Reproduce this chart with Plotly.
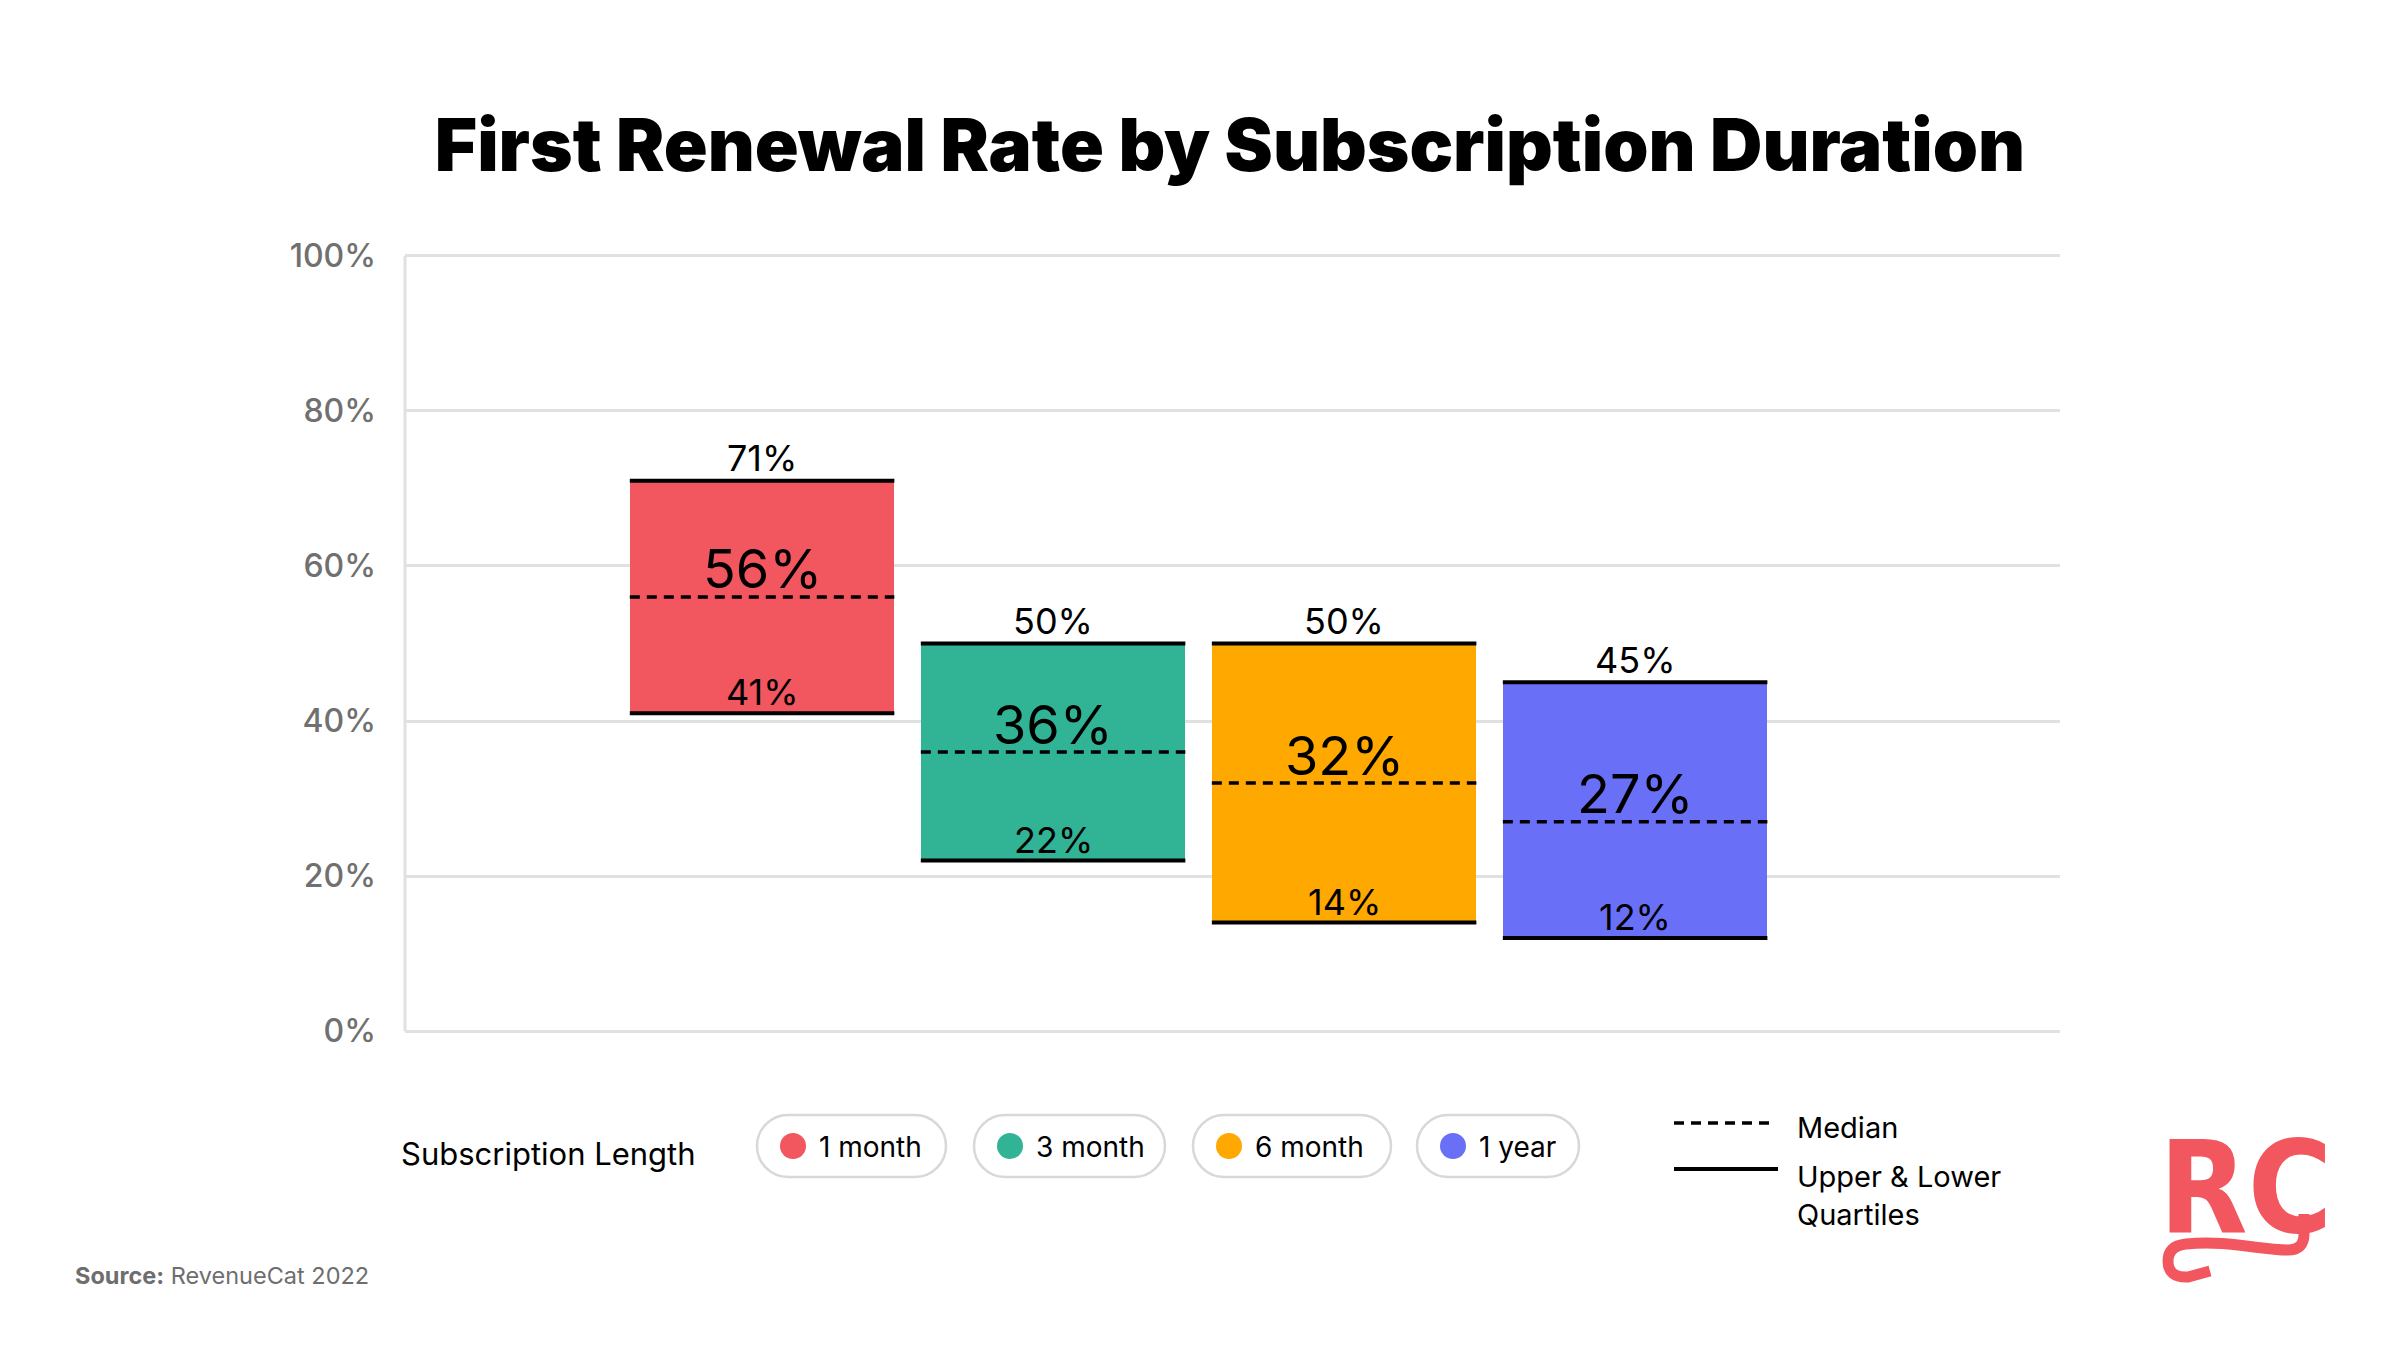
import plotly.graph_objects as go

# ---------------- data ----------------
categories = ["1 month", "3 month", "6 month", "1 year"]
upper_quartile = [71, 50, 50, 45]
median = [56, 36, 32, 27]
lower_quartile = [41, 22, 14, 12]
colors = ["#F2565F", "#31B396", "#FFA800", "#6A6FF7"]
y_tick_values = [0, 20, 40, 60, 80, 100]
y_tick_labels = ["0%", "20%", "40%", "60%", "80%", "100%"]

title_text = "First Renewal Rate by Subscription Duration"
legend_title = "Subscription Length"
median_text = "Median"
quartile_text = "Upper &amp; Lower<br>Quartiles"
source_text = "<b>Source:</b> RevenueCat 2022"
logo_text = "RC"

# ---------------- layout geometry (pixels) ----------------
W, H = 2400, 1350
Y_RANGE = [-0.25, 100.25]
ML, MR, MT, MB = 405, 340, 254, 317
PW, PH = W - ML - MR, H - MT - MB
BOTTOM = H - MB


def px(x):
    return (x - ML) / PW


def py(y):
    return (BOTTOM - y) / PH


LABEL_FONT = "Inter, Lato, sans-serif"
TITLE_FONT = "Inter, Lato, sans-serif"
GRID = "#E1E1E1"
TICK_GREY = "#707070"

idx = list(range(len(categories)))
bar_w = 0.909
x_range = [-1.227, 4.46]

fig = go.Figure()

fig.add_trace(go.Bar(
    x=idx,
    y=[u - l for u, l in zip(upper_quartile, lower_quartile)],
    base=lower_quartile,
    width=bar_w,
    marker=dict(color=colors, line=dict(width=0)),
    customdata=list(zip(categories, upper_quartile, median, lower_quartile)),
    hovertemplate="%{customdata[0]}<br>Upper: %{customdata[1]}%<br>Median: %{customdata[2]}%<br>Lower: %{customdata[3]}%<extra></extra>",
    showlegend=False,
))

# quartile lines (solid) and median lines (dashed)
qx, qy, mx, my = [], [], [], []
for i in idx:
    for v in (upper_quartile[i], lower_quartile[i]):
        qx += [i - bar_w / 2, i + bar_w / 2, None]
        qy += [v, v, None]
    mx += [i - bar_w / 2, i + bar_w / 2, None]
    my += [median[i], median[i], None]

fig.add_trace(go.Scatter(x=qx, y=qy, mode="lines", line=dict(color="#000000", width=4),
                         hoverinfo="skip", showlegend=False))
fig.add_trace(go.Scatter(x=mx, y=my, mode="lines", line=dict(color="#000000", width=3.5, dash="10px,7px"),
                         hoverinfo="skip", showlegend=False))

annotations = []
for i in idx:
    annotations.append(dict(x=i, y=upper_quartile[i], xref="x", yref="y", text=f"{upper_quartile[i]}%",
                            showarrow=False, yanchor="bottom", yshift=-1.5,
                            font=dict(family=LABEL_FONT, size=36, color="#000000")))
    annotations.append(dict(x=i, y=median[i], xref="x", yref="y", text=f"{median[i]}%",
                            showarrow=False, yanchor="bottom", yshift=-6.5,
                            font=dict(family=LABEL_FONT, size=54, color="#000000")))
    annotations.append(dict(x=i, y=lower_quartile[i], xref="x", yref="y", text=f"{lower_quartile[i]}%",
                            showarrow=False, yanchor="bottom", yshift=-3,
                            font=dict(family=LABEL_FONT, size=36, color="#000000")))

shapes = []

# ---------------- category legend (pills) ----------------
annotations.append(dict(x=px(399), y=py(1153), xref="paper", yref="paper", text=legend_title,
                        showarrow=False, xanchor="left", yanchor="middle",
                        font=dict(family=LABEL_FONT, size=31, color="#000000")))

pill_left = [757, 974, 1193, 1417]
pill_width = [189, 191, 198, 162]
pill_cy, pill_h = 1146, 62
k = 0.5523


def pill_path(x0, w, cy, h):
    r = h / 2
    x1 = x0 + w
    t, b = cy - r, cy + r
    pts = [
        ("M", [(x0 + r, t)]),
        ("L", [(x1 - r, t)]),
        ("C", [(x1 - r + k * r, t), (x1, cy - k * r), (x1, cy)]),
        ("C", [(x1, cy + k * r), (x1 - r + k * r, b), (x1 - r, b)]),
        ("L", [(x0 + r, b)]),
        ("C", [(x0 + r - k * r, b), (x0, cy + k * r), (x0, cy)]),
        ("C", [(x0, cy - k * r), (x0 + r - k * r, t), (x0 + r, t)]),
    ]
    s = ""
    for cmd, ps in pts:
        s += cmd + " ".join(f"{px(a):.5f},{py(c):.5f}" for a, c in ps) + " "
    return s + "Z"


for i in idx:
    shapes.append(dict(type="path", xref="paper", yref="paper",
                       path=pill_path(pill_left[i], pill_width[i], pill_cy, pill_h),
                       line=dict(color="#D8D8D8", width=2.5), fillcolor="rgba(0,0,0,0)", layer="above"))
    dcx = pill_left[i] + 36
    shapes.append(dict(type="circle", xref="paper", yref="paper",
                       x0=px(dcx - 13), x1=px(dcx + 13), y0=py(pill_cy - 13), y1=py(pill_cy + 13),
                       fillcolor=colors[i], line=dict(width=0), layer="above"))
    annotations.append(dict(x=px(pill_left[i] + 60), y=py(pill_cy + 1), xref="paper", yref="paper",
                            text=categories[i], showarrow=False, xanchor="left", yanchor="middle",
                            font=dict(family=LABEL_FONT, size=28, color="#000000")))

# ---------------- line-style legend ----------------
shapes.append(dict(type="line", xref="paper", yref="paper", x0=px(1674), x1=px(1775),
                   y0=py(1123), y1=py(1123), line=dict(color="#000000", width=3.5, dash="10px,7px")))
shapes.append(dict(type="line", xref="paper", yref="paper", x0=px(1674), x1=px(1778),
                   y0=py(1169), y1=py(1169), line=dict(color="#000000", width=4)))
annotations.append(dict(x=px(1795), y=py(1127), xref="paper", yref="paper", text=median_text,
                        showarrow=False, xanchor="left", yanchor="middle", align="left",
                        font=dict(family=LABEL_FONT, size=29, color="#000000")))
annotations.append(dict(x=px(1795), y=py(1195), xref="paper", yref="paper", text=quartile_text,
                        showarrow=False, xanchor="left", yanchor="middle", align="left",
                        font=dict(family=LABEL_FONT, size=29, color="#000000")))

# ---------------- source ----------------
annotations.append(dict(x=px(73), y=py(1275), xref="paper", yref="paper", text=source_text,
                        showarrow=False, xanchor="left", yanchor="middle",
                        font=dict(family=TITLE_FONT, size=23.5, color="#6E6E6E")))

# ---------------- logo ----------------
LOGO_RED = "#F2565F"
annotations.append(dict(x=px(2157), y=py(1187), xref="paper", yref="paper", text=f"<b>{logo_text}</b>",
                        showarrow=False, xanchor="left", yanchor="middle",
                        font=dict(family="Liberation Sans Narrow, DejaVu Sans Condensed, Roboto, sans-serif",
                                  size=128, color=LOGO_RED)))
swash = [
    ("M", [(2304, 1214)]),
    ("L", [(2304, 1234)]),
    ("Q", [(2304, 1250), (2288, 1250)]),
    ("C", [(2260, 1250), (2228, 1240), (2186, 1244)]),
    ("Q", [(2168, 1246), (2168, 1261)]),
    ("Q", [(2168, 1278), (2188, 1277)]),
    ("L", [(2210, 1271)]),
]
swash_path = ""
for cmd, ps in swash:
    swash_path += cmd + " ".join(f"{px(a):.5f},{py(c):.5f}" for a, c in ps) + " "
shapes.append(dict(type="path", xref="paper", yref="paper", path=swash_path,
                   line=dict(color=LOGO_RED, width=11), fillcolor="rgba(0,0,0,0)"))

fig.update_layout(
    width=W, height=H,
    margin=dict(l=ML, r=MR, t=MT, b=MB, autoexpand=False),
    paper_bgcolor="#FFFFFF", plot_bgcolor="#FFFFFF",
    title=dict(text=title_text, x=1230 / W, xanchor="center", xref="container",
               y=1 - 146 / H, yanchor="middle", yref="container",
               font=dict(family=TITLE_FONT, size=72.5, color="#000000", weight=900)),
    xaxis=dict(range=x_range, showticklabels=False, showgrid=False, zeroline=False,
               showline=False, fixedrange=True),
    yaxis=dict(range=Y_RANGE, tickvals=y_tick_values, ticktext=y_tick_labels,
               showgrid=True, gridcolor=GRID, gridwidth=3, zeroline=False,
               showline=False, ticks="",
               ticklabelstandoff=28,
               tickfont=dict(family=LABEL_FONT, size=32, color=TICK_GREY, weight=500), fixedrange=True),
    annotations=annotations,
    shapes=shapes,
    bargap=0,
)

# left axis line from 0% to 100% drawn against the y scale
fig.add_shape(type="line", xref="paper", yref="y", x0=0, x1=0, y0=y_tick_values[0], y1=y_tick_values[-1],
              line=dict(color=GRID, width=3), layer="below")

fig.write_html("out.html")
